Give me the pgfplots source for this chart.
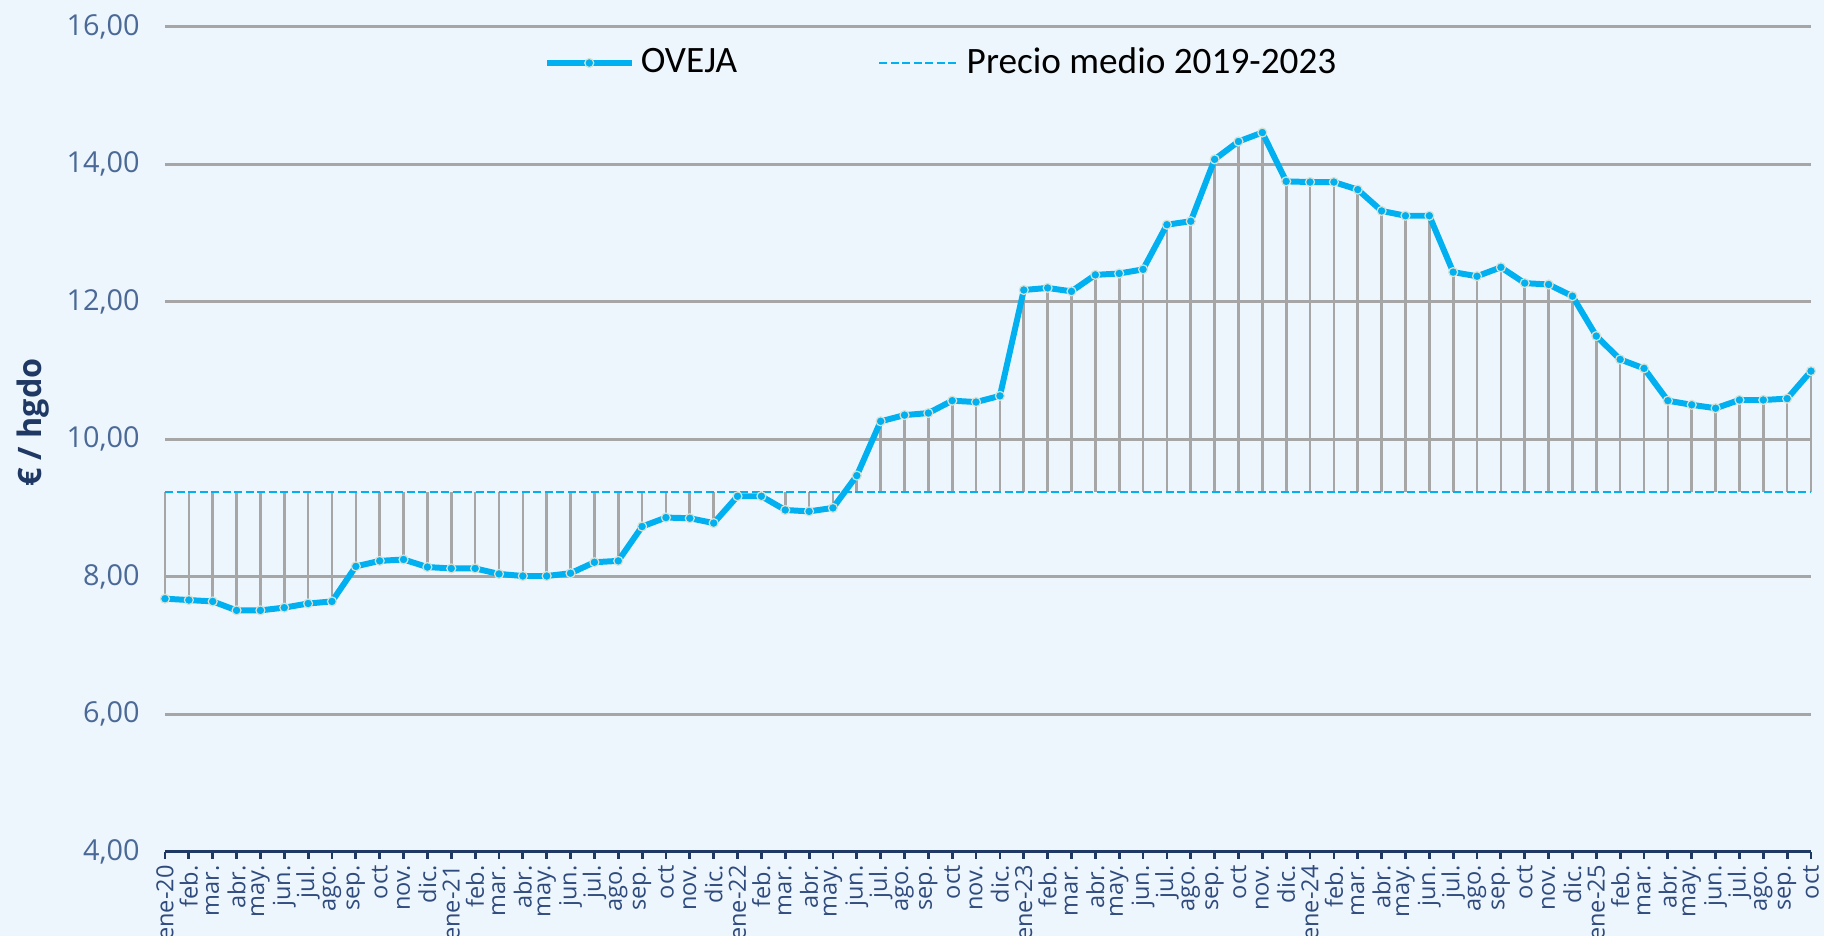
\documentclass[border=0pt]{standalone}
\usepackage{pgfplots}
\pgfplotsset{compat=1.18}
\usepackage{pgfplotstable}
\usepackage{fontspec}
\setmainfont{Open Sans}
\newfontfamily\legfont{Carlito}
\definecolor{bg}{RGB}{238,246,253}
\definecolor{oveja}{RGB}{0,176,240}
\definecolor{gridgray}{RGB}{166,166,166}
\definecolor{navy}{RGB}{31,56,100}
\definecolor{ticky}{RGB}{74,105,150}
\definecolor{tickx}{RGB}{47,75,125}

\pgfplotsset{
  ovejaleg/.style={legend image code/.code={\draw[mark repeat=2,mark phase=2,##1] plot coordinates {(0mm,0mm) (4.25mm,0mm) (8.5mm,0mm)};}},
  meanleg/.style={legend image code/.code={\draw[##1] (0mm,0mm) -- (8mm,0mm);}},
}

\pgfplotstableread{
x y
0 7.68
1 7.66
2 7.64
3 7.51
4 7.51
5 7.55
6 7.61
7 7.64
8 8.15
9 8.23
10 8.25
11 8.14
12 8.12
13 8.12
14 8.04
15 8.01
16 8.01
17 8.05
18 8.21
19 8.23
20 8.73
21 8.86
22 8.85
23 8.78
24 9.17
25 9.17
26 8.97
27 8.95
28 9.00
29 9.47
30 10.26
31 10.35
32 10.38
33 10.56
34 10.54
35 10.63
36 12.17
37 12.20
38 12.15
39 12.39
40 12.41
41 12.47
42 13.12
43 13.17
44 14.07
45 14.33
46 14.46
47 13.75
48 13.74
49 13.74
50 13.63
51 13.32
52 13.25
53 13.25
54 12.43
55 12.37
56 12.50
57 12.27
58 12.25
59 12.08
60 11.50
61 11.16
62 11.03
63 10.56
64 10.50
65 10.45
66 10.57
67 10.57
68 10.59
69 10.99
}\datatable

\pgfplotstableread{
x y
0 9.23
69 9.23
}\meantable

\begin{document}
\begin{tikzpicture}
\fill[bg] (0mm,0mm) rectangle (182.4mm,93.6mm);
\begin{axis}[
  at={(16.5mm,8.43mm)}, anchor=south west,
  width=164.6mm, height=82.5mm, scale only axis,
  xmin=0, xmax=69, ymin=4, ymax=16,
  clip=false,
  axis x line*=bottom, axis y line*=left,
  y axis line style={draw=none},
  x axis line style={draw=navy, line width=0.9pt},
  ytick={4,6,...,16},
  ymajorgrids,
  grid style={draw=gridgray, line width=0.8pt},
  major y tick style={draw=none},
  xtick={0,...,69},
  xtick align=outside,
  major x tick style={draw=navy, line width=0.8pt},
  major tick length=0.7mm,
  yticklabel={\pgfmathprintnumber[fixed,fixed zerofill,precision=2,use comma,assume math mode=true]{\tick}},
  yticklabel style={font=\fontsize{8.2}{9}\selectfont, color=ticky, anchor=east, xshift=-1.3mm},
  xticklabels={ene-20,feb.,mar.,abr.,may.,jun.,jul.,ago.,sep.,oct,nov.,dic.,
               ene-21,feb.,mar.,abr.,may.,jun.,jul.,ago.,sep.,oct,nov.,dic.,
               ene-22,feb.,mar.,abr.,may.,jun.,jul.,ago.,sep.,oct,nov.,dic.,
               ene-23,feb.,mar.,abr.,may.,jun.,jul.,ago.,sep.,oct,nov.,dic.,
               ene-24,feb.,mar.,abr.,may.,jun.,jul.,ago.,sep.,oct,nov.,dic.,
               ene-25,feb.,mar.,abr.,may.,jun.,jul.,ago.,sep.,oct},
  xticklabel shift=0.6mm,
  xticklabel style={font=\fontsize{6.7}{8}\selectfont, color=tickx, rotate=90, anchor=east, inner sep=0pt},
  ylabel={€ / hgdo},
  every axis y label/.style={at={(axis description cs:-0.080,0.52)}, rotate=90, anchor=center,
     font=\bfseries\fontsize{9.2}{10}\selectfont, color=navy},
  legend columns=2,
  legend style={at={(axis description cs:0.2297,0.956)}, anchor=west, draw=none, fill=none,
     inner sep=0pt, font=\legfont\fontsize{10.6}{12}\selectfont,
     nodes={inner sep=0.6mm},
     /tikz/every even column/.append style={column sep=13.5mm}},
]
\addplot[forget plot, draw=none, mark=none,
  error bars/.cd, y dir=both, y explicit, error mark=none,
  error bar style={draw=gridgray, line width=0.75pt}]
  table[x=x, y=y, y error plus expr={max(9.23-\thisrow{y},0)}, y error minus expr={max(\thisrow{y}-9.23,0)}] \datatable;
\addplot[forget plot, color=oveja, line width=0.75pt, dash pattern=on 0.8mm off 0.35mm] table[x=x,y=y] \meantable;
\addplot[color=oveja, line width=1.7pt, line join=round, mark=*, mark size=0.45mm,
  mark options={fill=oveja, draw={rgb,255:red,215;green,225;blue,210}, line width=0.35pt},
  ovejaleg]
  table[x=x,y=y] \datatable;
\addlegendentry{OVEJA}
\addlegendimage{color=oveja, line width=0.75pt, dash pattern=on 0.8mm off 0.35mm, meanleg}
\addlegendentry{Precio medio 2019-2023}
\end{axis}
\pgfresetboundingbox
\path[use as bounding box] (0mm,0mm) rectangle (182.4mm,93.6mm);
\end{tikzpicture}
\end{document}
